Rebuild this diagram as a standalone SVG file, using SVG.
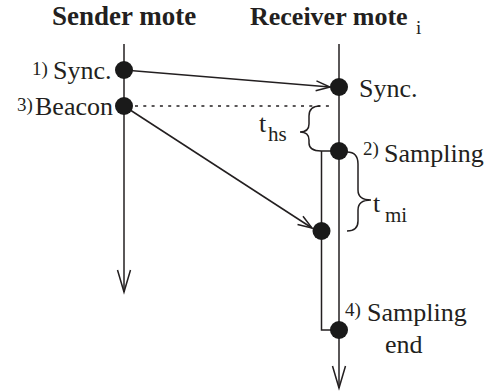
<svg xmlns="http://www.w3.org/2000/svg" width="489" height="391" viewBox="0 0 489 391">
<defs>
<marker id="ah" markerUnits="userSpaceOnUse" markerWidth="30" markerHeight="20" refX="0" refY="0" viewBox="-24 -10 26 20" orient="auto" overflow="visible">
<path d="M -14 -5 L 0 0 L -14 5" fill="none" stroke="#231f20" stroke-width="1.5"/>
</marker>
<marker id="ahl" markerUnits="userSpaceOnUse" markerWidth="30" markerHeight="20" refX="0" refY="0" viewBox="-24 -10 26 20" orient="auto" overflow="visible">
<path d="M -22 -6.5 L 0 0 L -22 6.5" fill="none" stroke="#231f20" stroke-width="1.5"/>
</marker>
</defs>
<rect width="489" height="391" fill="#fff"/>
<g id="connectors" fill="none" stroke="#231f20" stroke-width="1.5">
<line x1="124" y1="44" x2="124" y2="292" marker-end="url(#ahl)"/>
<line x1="339" y1="44" x2="339" y2="388" marker-end="url(#ahl)"/>
<line x1="124" y1="70" x2="330" y2="87" marker-end="url(#ah)"/>
<line x1="124" y1="106" x2="312" y2="228" marker-end="url(#ah)"/>
<line x1="135" y1="106" x2="334" y2="106" stroke-dasharray="3 5.3" stroke-width="1.3"/>
<polyline points="339,151 321.5,151 321.5,330 339,330"/>
<path d="M 320 106 Q 309 106 309 116 L 309 124 Q 309 132 300 132 Q 309 132 309 140 L 309 143 Q 309 151 321 151"/>
<path d="M 347 152 Q 358 152 358 164 L 358 190 Q 358 200 371 200 Q 358 200 358 210 L 358 221 Q 358 231 347 231"/>
</g>
<g id="sender-mote">
<text x="52" y="25" font-family="Liberation Serif" font-size="27" font-weight="bold" fill="#231f20">Sender mote</text>
</g>
<g id="receiver-mote">
<text x="250" y="25" font-family="Liberation Serif" font-size="26" font-weight="bold" fill="#231f20">Receiver mote</text>
<text x="416" y="34" font-family="Liberation Serif" font-size="19" fill="#231f20">i</text>
</g>
<g id="sender-sync">
<circle cx="124" cy="70" r="9" fill="#1a1a1a"/>
<text x="32" y="75" font-family="Liberation Serif" font-size="19" fill="#231f20">1)</text>
<text x="53" y="79" font-family="Liberation Serif" font-size="26" fill="#231f20">Sync.</text>
</g>
<g id="sender-beacon">
<circle cx="124" cy="106" r="9" fill="#1a1a1a"/>
<text x="17" y="111" font-family="Liberation Serif" font-size="19" fill="#231f20">3)</text>
<text x="35" y="115" font-family="Liberation Serif" font-size="26" fill="#231f20">Beacon</text>
</g>
<g id="receiver-sync">
<circle cx="339" cy="87" r="9" fill="#1a1a1a"/>
<text x="359" y="97" font-family="Liberation Serif" font-size="26" fill="#231f20">Sync.</text>
</g>
<g id="receiver-sampling">
<circle cx="339" cy="151" r="9" fill="#1a1a1a"/>
<text x="363" y="155" font-family="Liberation Serif" font-size="19" fill="#231f20">2)</text>
<text x="384" y="162" font-family="Liberation Serif" font-size="26" fill="#231f20">Sampling</text>
</g>
<g id="receiver-beacon">
<circle cx="321.5" cy="231" r="9" fill="#1a1a1a"/>
</g>
<g id="sampling-end">
<circle cx="339" cy="330" r="9" fill="#1a1a1a"/>
<text x="345" y="316" font-family="Liberation Serif" font-size="19" fill="#231f20">4)</text>
<text x="367" y="321" font-family="Liberation Serif" font-size="26" fill="#231f20">Sampling</text>
<text x="385" y="353" font-family="Liberation Serif" font-size="26" fill="#231f20">end</text>
</g>
<g id="t-hs">
<text x="259" y="132" font-family="Liberation Serif" font-size="26" fill="#231f20">t</text>
<text x="268" y="141" font-family="Liberation Serif" font-size="21" fill="#231f20">hs</text>
</g>
<g id="t-mi">
<text x="373" y="212" font-family="Liberation Serif" font-size="26" fill="#231f20">t</text>
<text x="385" y="222" font-family="Liberation Serif" font-size="21" fill="#231f20">mi</text>
</g>
</svg>
